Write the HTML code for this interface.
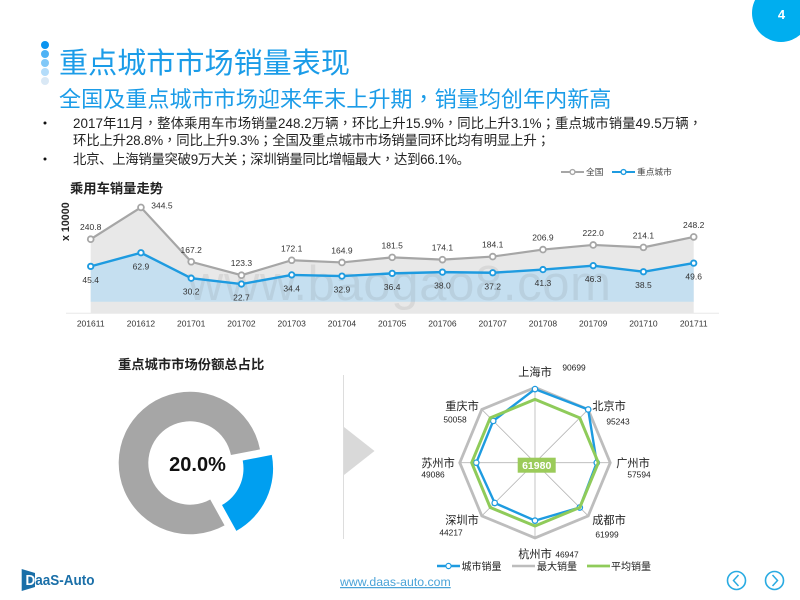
<!DOCTYPE html>
<html lang="zh-CN">
<head>
<meta charset="utf-8">
<title>重点城市市场销量表现</title>
<style>
html,body{margin:0;padding:0;background:#fff;}
svg{display:block;}
text{font-family:"Liberation Sans","Noto Sans CJK SC",sans-serif;}
.p{font-family:"Noto Sans CJK TC",sans-serif;font-feature-settings:"locl" 0;}
.val{font-size:8.5px;fill:#333;text-anchor:middle;}
</style>
</head>
<body>
<svg id="page" width="800" height="600" viewBox="0 0 800 600" xmlns="http://www.w3.org/2000/svg">
  <rect width="800" height="600" fill="#ffffff"/>
  <circle cx="781" cy="13" r="29" fill="#00aeef"/>
  <text x="781.5" y="19" font-size="13" font-weight="bold" fill="#fff" text-anchor="middle">4</text>

  <g>
    <circle cx="45" cy="45" r="4" fill="#0a94f0"/>
    <circle cx="45" cy="54" r="4" fill="#4db2f5"/>
    <circle cx="45" cy="63" r="4" fill="#80c8f8"/>
    <circle cx="45" cy="72" r="4" fill="#b3dcfa"/>
    <circle cx="45" cy="81" r="4" fill="#d9e8f5"/>
  </g>
  <text x="59" y="73" font-size="29.1" fill="#1b9ce8">重点城市市场销量表现</text>
  <text x="59" y="107" font-size="22.1" fill="#1b9ce8">全国及重点城市市场迎来年末上升期<tspan class="p" lang="zh-TW">，</tspan>销量均创年内新高</text>

  <g fill="#222" font-size="13.4">
    <circle cx="45" cy="123" r="1.5" fill="#111"/>
    <circle cx="45" cy="159" r="1.5" fill="#111"/>
    <text x="73" y="128" textLength="629">2017年11月<tspan class="p" lang="zh-TW">，</tspan>整体乘用车市场销量248.2万辆<tspan class="p" lang="zh-TW">，</tspan>环比上升15.9%<tspan class="p" lang="zh-TW">，</tspan>同比上升3.1%<tspan class="p" lang="zh-TW">；</tspan>重点城市销量49.5万辆<tspan class="p" lang="zh-TW">，</tspan></text>
    <text x="73" y="145" textLength="477">环比上升28.8%<tspan class="p" lang="zh-TW">，</tspan>同比上升9.3%<tspan class="p" lang="zh-TW">；</tspan>全国及重点城市市场销量同环比均有明显上升<tspan class="p" lang="zh-TW">；</tspan></text>
    <text x="73" y="164" textLength="397">北京、上海销量突破9万大关<tspan class="p" lang="zh-TW">；</tspan>深圳销量同比增幅最大<tspan class="p" lang="zh-TW">，</tspan>达到66.1%。</text>
  </g>

  <text x="70" y="193" font-size="13.3" font-weight="bold" fill="#222">乘用车销量走势</text>
  <text transform="translate(69,241) rotate(-90)" font-size="10.7" font-weight="bold" fill="#222">x 10000</text>

  <g>
    <line x1="561" y1="172" x2="584" y2="172" stroke="#a6a6a6" stroke-width="2"/>
    <circle cx="572.5" cy="172" r="2.4" fill="#fff" stroke="#a6a6a6" stroke-width="1.4"/>
    <text x="586" y="175" font-size="8.7" fill="#444">全国</text>
    <line x1="612" y1="172" x2="635" y2="172" stroke="#1e9be0" stroke-width="2"/>
    <circle cx="623.5" cy="172" r="2.4" fill="#fff" stroke="#1e9be0" stroke-width="1.4"/>
    <text x="637" y="175" font-size="8.7" fill="#444">重点城市</text>
  </g>

  <g id="line-chart"></g>

  <text x="118" y="369" font-size="13.3" font-weight="bold" fill="#222">重点城市市场份额总占比</text>
  <g id="donut-chart"></g>

  <line x1="343.5" y1="375" x2="343.5" y2="539" stroke="#dddddd" stroke-width="1"/>
  <polygon points="344,427 374.5,451 344,475" fill="#d9d9d9"/>

  <g id="radar-chart"></g>

  <g>
    <line x1="437" y1="566" x2="460" y2="566" stroke="#1e9be0" stroke-width="2.4"/>
    <circle cx="448.5" cy="566" r="2.6" fill="#fff" stroke="#1e9be0" stroke-width="1.2"/>
    <text x="461.5" y="570" font-size="10" fill="#222">城市销量</text>
    <line x1="512" y1="566" x2="535" y2="566" stroke="#bdbdbd" stroke-width="2.4"/>
    <text x="537" y="570" font-size="10" fill="#222">最大销量</text>
    <line x1="587" y1="566" x2="610" y2="566" stroke="#8fcb5a" stroke-width="2.8"/>
    <text x="611" y="570" font-size="10" fill="#222">平均销量</text>
  </g>

  <g>
    <polygon points="21.7,569 35,573 35,587 21.7,591" fill="#1a6fa8"/>
    <text x="25.5" y="585" font-size="15" font-weight="bold" fill="#1a6fa8" textLength="69" lengthAdjust="spacingAndGlyphs"><tspan fill="#fff">D</tspan>aaS-Auto</text>
  </g>
  <text x="340" y="586" font-size="12.3" fill="#4aa3d8" text-decoration="underline">www.daas-auto.com</text>
  <g fill="none" stroke="#29abe2">
    <circle cx="736.5" cy="580.5" r="9" stroke-width="1.6"/>
    <polyline points="738.5,575 733.5,580.5 738.5,586" stroke-width="1.5"/>
  </g>
  <g fill="none" stroke="#29abe2">
    <circle cx="774.5" cy="580.5" r="9" stroke-width="1.6"/>
    <polyline points="772.5,575 777.5,580.5 772.5,586" stroke-width="1.5"/>
  </g>
</svg>

<script>
// ---- Line chart data ----
const months = ["201611","201612","201701","201702","201703","201704","201705","201706","201707","201708","201709","201710","201711"];
const nationalSales = [240.8,344.5,167.2,123.3,172.1,164.9,181.5,174.1,184.1,206.9,222.0,214.1,248.2];
const keyCitySales = [45.4,62.9,30.2,22.7,34.4,32.9,36.4,38.0,37.2,41.3,46.3,38.5,49.6];

// ---- Donut data ----
const donutLabels = ["重点城市","其他"];
const donutShares = [20.0,80.0];

// ---- Radar data ----
const radarCities = ["上海市","北京市","广州市","成都市","杭州市","深圳市","苏州市","重庆市"];
const radarCityValues = [90699,95243,57594,61999,46947,44217,49086,50058];
const radarMaxValues = [95243,95243,95243,95243,95243,95243,95243,95243];
const radarAvgValues = [61980,61980,61980,61980,61980,61980,61980,61980];

const NS = "http://www.w3.org/2000/svg";
function make(tag, attrs, parent, txt) {
  const e = document.createElementNS(NS, tag);
  for (const k in attrs) e.setAttribute(k, attrs[k]);
  if (txt !== undefined) e.textContent = txt;
  parent.appendChild(e);
  return e;
}

// ---- Line chart ----
(function () {
  const g = document.getElementById("line-chart");
  const xAt = i => 90.7 + i * (693.7 - 90.7) / (months.length - 1);
  const yNational = v => 313 - 0.3065 * v;
  const yCity = v => 301.7 - 0.778 * v;
  const base = 313, blueBase = 301.7;
  const last = months.length - 1;

  let el = make("line", {x1:66,y1:313.3,x2:719,y2:313.3,stroke:"#e8e8e8","stroke-width":1}, g);
  
  

  const natPts = nationalSales.map((v,i)=>xAt(i)+","+yNational(v)).join(" ");
  const cityPts = keyCitySales.map((v,i)=>xAt(i)+","+yCity(v)).join(" ");

  el = make("polygon", {points:xAt(0)+","+base+" "+natPts+" "+xAt(last)+","+base, fill:"#e8e8e8"}, g);
  
  

  el = make("polygon", {points:xAt(0)+","+blueBase+" "+cityPts+" "+xAt(last)+","+blueBase, fill:"#c5dff0"}, g);
  
  

  el = make("text", {x:188,y:300,"font-size":49,fill:"rgba(90,90,90,0.11)",textLength:423}, g, "www.baogao8.com");
  
  

  el = make("polyline", {points:natPts, fill:"none", stroke:"#a6a6a6","stroke-width":2.2}, g);
  
  

  el = make("polyline", {points:cityPts, fill:"none", stroke:"#1e9be0","stroke-width":2.4}, g);
  
  

  months.forEach((m,i) => {
    let t = make("text", {x:xAt(i),y:326.3,class:"val","font-size":8.7}, g, m);
    
    

    const nv = nationalSales[i], cv = keyCitySales[i];
    let c = make("circle", {cx:xAt(i),cy:yNational(nv),r:2.9,fill:"#fff",stroke:"#a6a6a6","stroke-width":1.8}, g);
    
    

    c = make("circle", {cx:xAt(i),cy:yCity(cv),r:2.7,fill:"#fff",stroke:"#1e9be0","stroke-width":1.9}, g);
    
    

    // peak label sits to the right of its marker, all others above
    const peak = nv === Math.max.apply(null, nationalSales);
    t = make("text", {x:xAt(i)+(peak?21:0),y:yNational(nv)+(peak?1:-9),class:"val"}, g, nv.toFixed(1));
    
    

    t = make("text", {x:xAt(i),y:yCity(cv)+16.5,class:"val"}, g, cv.toFixed(1));
    
    
  });
})();

// ---- Donut ----
(function () {
  const g = document.getElementById("donut-chart");
  const cx = 190, cy = 463, ro = 71.3, ri = 41.7, explode = 13;
  const colors = ["#009ff0","#a6a6a6"];
  const total = donutShares.reduce((a,b)=>a+b,0);
  let a0 = 79;
  const pt = (r,a,ox,oy) => {
    const t = a*Math.PI/180;
    return (cx+ox+r*Math.sin(t)).toFixed(2)+" "+(cy+oy-r*Math.cos(t)).toFixed(2);
  };
  donutShares.forEach((s,i) => {
    const sweep = s/total*360, a1 = a0+sweep, mid = (a0+a1)/2*Math.PI/180;
    const ox = i===0 ? explode*Math.sin(mid) : 0;
    const oy = i===0 ? -explode*Math.cos(mid) : 0;
    const large = sweep>180?1:0;
    const d = "M"+pt(ro,a0,ox,oy)+"A"+ro+" "+ro+" 0 "+large+" 1 "+pt(ro,a1,ox,oy)+
              "L"+pt(ri,a1,ox,oy)+"A"+ri+" "+ri+" 0 "+large+" 0 "+pt(ri,a0,ox,oy)+"Z";
    const p = make("path", {d:d, fill:colors[i]}, g);
    
    
    a0 = a1;
  });
  const label = make("text", {x:197.5,y:471,"font-size":20,"font-weight":"bold",fill:"#111","text-anchor":"middle"}, g, donutShares[0].toFixed(1)+"%");
  
  
})();

// ---- Radar ----
(function () {
  const g = document.getElementById("radar-chart");
  const cx = 535, cy = 462.7, R = 75.5, rMin = -115000, rMax = 96000;
  const n = radarCities.length;
  const rAt = v => R*(v-rMin)/(rMax-rMin);
  const ptAt = (v,i) => {
    const t = i/n*2*Math.PI, r = rAt(v);
    return [cx+r*Math.sin(t), cy-r*Math.cos(t)];
  };
  const poly = vals => vals.map((v,i)=>ptAt(v,i).map(x=>x.toFixed(2)).join(",")).join(" ");

  radarCities.forEach((c,i) => {
    const t = i/n*2*Math.PI;
    const s = make("line", {x1:cx,y1:cy,x2:cx+R*Math.sin(t),y2:cy-R*Math.cos(t),stroke:"#b5b5b5","stroke-width":0.8}, g);
    
    
  });

  let l = make("polygon", {points:poly(radarMaxValues),fill:"none",stroke:"#bdbdbd","stroke-width":2.8}, g);
  
  

  l = make("polygon", {points:poly(radarCityValues),fill:"none",stroke:"#1e9be0","stroke-width":2.4}, g);
  
  

  radarCityValues.forEach((v,i) => {
    const p = ptAt(v,i);
    const c = make("circle", {cx:p[0],cy:p[1],r:2.7,fill:"#fff",stroke:"#1e9be0","stroke-width":1.3}, g);
    
    
  });

  l = make("polygon", {points:poly(radarAvgValues),fill:"none",stroke:"#8fcb5a","stroke-width":3}, g);
  
  

  const box = make("rect", {x:517.7,y:457.7,width:38,height:15,fill:"#9bcb5a"}, g);
  
  

  const avg = make("text", {x:536.7,y:469.2,"font-size":10.5,"font-weight":"bold",fill:"#fff","text-anchor":"middle"}, g, String(radarAvgValues[0]));
  
  

  // Label layout, offsets from the radar centre (name dx, name dy, value dx, value dy)
  const labelLayout = [
    [0,-91,39,-95],[74,-57,83,-41],[98,0,104,12],[74,57,72,72],
    [0,91,32,92],[-73,57,-84,70],[-97,0,-102,12],[-73,-57,-80,-43]
  ];
  radarCities.forEach((c,i) => {
    const o = labelLayout[i];
    let t = make("text", {x:cx+o[0],y:cy+o[1]+4.5,"font-size":11.2,fill:"#222","text-anchor":"middle"}, g, c);
    
    
    t = make("text", {x:cx+o[2],y:cy+o[3]+3,"font-size":8.4,fill:"#222","text-anchor":"middle"}, g, String(radarCityValues[i]));
    
    
  });
})();
</script>
</body>
</html>
